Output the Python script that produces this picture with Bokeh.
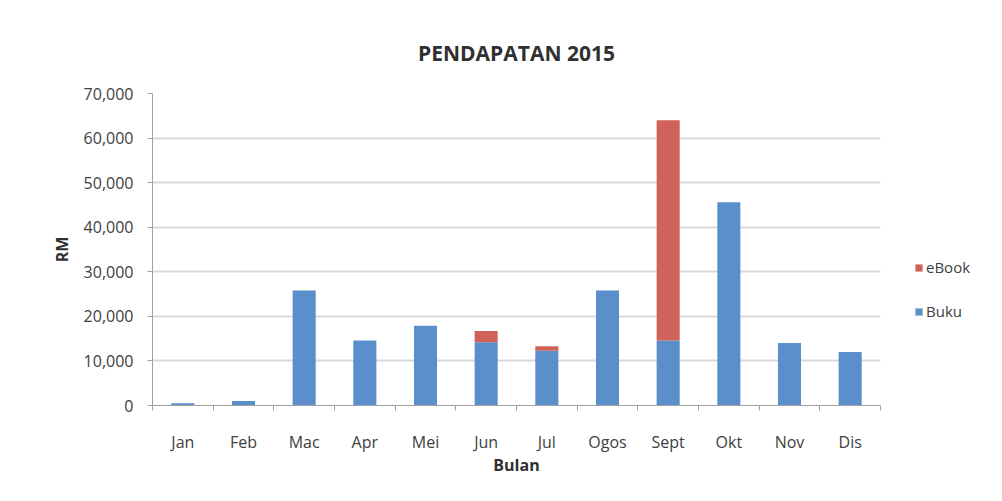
from bokeh.plotting import figure
from bokeh.layouts import row
from bokeh.models import (FixedTicker, NumeralTickFormatter, Legend, LegendItem, Range1d)
from bokeh.embed import file_html
from bokeh.resources import INLINE

months = ["Jan", "Feb", "Mac", "Apr", "Mei", "Jun", "Jul", "Ogos", "Sept", "Okt", "Nov", "Dis"]
buku = [500, 1000, 25800, 14600, 17900, 14200, 12300, 25800, 14600, 45600, 14000, 12000]
ebook = [0, 0, 0, 0, 0, 2500, 1000, 0, 49400, 0, 0, 0]
y_ticks = [0, 10000, 20000, 30000, 40000, 50000, 60000, 70000]
series = ["Buku", "eBook"]

FONT = "Open Sans"
TXT = "#404040"
BLUE = "#5a8fcb"
RED = "#d0625a"

xs = list(range(1, len(months) + 1))
data = {"x": xs, "Buku": buku, "eBook": ebook}

p = figure(width=884, height=493, output_backend="svg", toolbar_location=None,
           x_range=Range1d(0.5, len(months) + 0.5), y_range=Range1d(0, 70000),
           min_border_left=152, min_border_right=4, min_border_top=93, min_border_bottom=88,
           title="PENDAPATAN 2015")

r = p.vbar_stack(series, x="x", width=0.38, source=data,
                 color=[BLUE, RED], line_color=None)

p.title.align = "center"
p.title.text_font = FONT
p.title.text_font_size = "21px"
p.title.text_font_style = "bold"
p.title.text_color = "#303030"
p.title.standoff = 54

p.outline_line_color = None
p.background_fill_color = "white"
p.border_fill_color = "white"

# x axis
p.xaxis.ticker = FixedTicker(ticks=xs, minor_ticks=[i + 0.5 for i in range(0, len(months) + 1)])
p.xaxis.major_label_overrides = {i: m for i, m in zip(xs, months)}
p.xaxis.major_tick_line_color = None
p.xaxis.major_tick_out = 0
p.xaxis.major_tick_in = 0
p.xaxis.minor_tick_line_color = "#a0a0a0"
p.xaxis.minor_tick_out = 5
p.xaxis.minor_tick_in = 0
p.xaxis.axis_line_color = "#a0a0a0"
p.xaxis.major_label_text_font = FONT
p.xaxis.major_label_text_font_size = "16px"
p.xaxis.major_label_text_color = TXT
p.xaxis.major_label_standoff = 20
p.xaxis.axis_label = "Bulan"
p.xaxis.axis_label_text_font = FONT
p.xaxis.axis_label_text_font_size = "16px"
p.xaxis.axis_label_text_font_style = "bold"
p.xaxis.axis_label_text_color = "#303030"
p.xaxis.axis_label_standoff = -2
p.xgrid.grid_line_color = None

# y axis
p.yaxis.ticker = FixedTicker(ticks=y_ticks, minor_ticks=[])
p.yaxis.formatter = NumeralTickFormatter(format="0,0")
p.yaxis.axis_line_color = "#a0a0a0"
p.yaxis.major_tick_line_color = "#a0a0a0"
p.yaxis.major_tick_out = 5
p.yaxis.major_tick_in = 0
p.yaxis.minor_tick_line_color = None
p.yaxis.major_label_text_font = FONT
p.yaxis.major_label_text_font_size = "16px"
p.yaxis.major_label_text_color = TXT
p.yaxis.major_label_standoff = 14
p.yaxis.axis_label = "RM"
p.yaxis.axis_label_text_font = FONT
p.yaxis.axis_label_text_font_size = "16px"
p.yaxis.axis_label_text_font_style = "bold"
p.yaxis.axis_label_text_color = "#303030"
p.yaxis.axis_label_standoff = 8
p.ygrid.grid_line_color = "#d9d9d9"
p.ygrid.grid_line_width = 2

# legend panel: same series, hidden renderers, only the legend shows
lg = figure(width=110, height=493, output_backend="svg", toolbar_location=None,
            x_axis_type=None, y_axis_type=None,
            x_range=Range1d(0.5, len(months) + 0.5), y_range=Range1d(0, 70000),
            min_border=0)
lg.outline_line_color = None
lg.grid.grid_line_color = None
lr = lg.vbar_stack(series, x="x", width=0.38, source=data,
                   color=[BLUE, RED], line_color=None)
for rr in lr:
    rr.visible = False

legend = Legend(items=[LegendItem(label="eBook", renderers=[lr[1]]),
                       LegendItem(label="Buku", renderers=[lr[0]])],
                location=(30, 84), padding=0, margin=0, spacing=24,
                glyph_width=9, glyph_height=9, label_height=20, label_standoff=3,
                label_text_font=FONT, label_text_font_size="15px", label_text_color=TXT,
                border_line_color=None, background_fill_alpha=0,
                inactive_fill_alpha=0, click_policy="none")
lg.add_layout(legend, "center")

open("out.html", "w").write(file_html(row(p, lg), INLINE))
